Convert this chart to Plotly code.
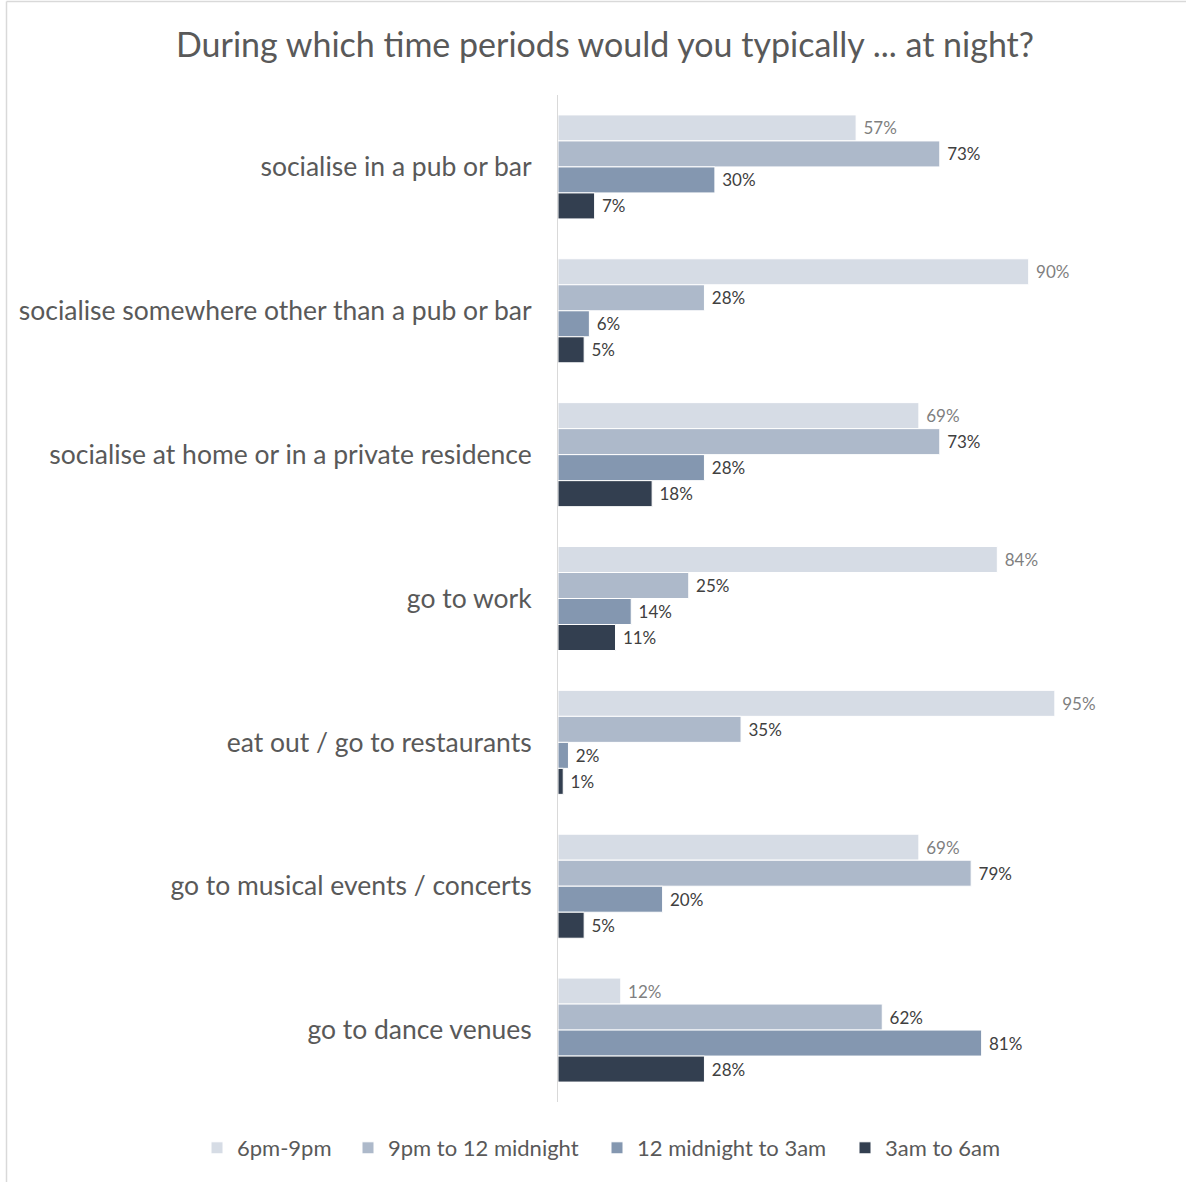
import plotly.graph_objects as go

categories = [
    "socialise in a pub or bar",
    "socialise somewhere other than a pub or bar",
    "socialise at home or in a private residence",
    "go to work",
    "eat out / go to restaurants",
    "go to musical events / concerts",
    "go to dance venues",
]
series_names = ["6pm-9pm", "9pm to 12 midnight", "12 midnight to 3am", "3am to 6am"]
s_6_9 = [0.57, 0.90, 0.69, 0.84, 0.95, 0.69, 0.12]
s_9_12 = [0.73, 0.28, 0.73, 0.25, 0.35, 0.79, 0.62]
s_12_3 = [0.30, 0.06, 0.28, 0.14, 0.02, 0.20, 0.81]
s_3_6 = [0.07, 0.05, 0.18, 0.11, 0.01, 0.05, 0.28]
series_values = [s_6_9, s_9_12, s_12_3, s_3_6]

colors = ["#D6DCE5", "#ADB9CA", "#8497B0", "#333F50"]
label_colors = ["#7F7F7F", "#404040", "#404040", "#404040"]
legend_text_x = [237, 388, 637, 885]

W, H = 1186, 1182
L, R, T, B = 558, 1081, 95, 1102

legend_ids = ["legend", "legend2", "legend3", "legend4"]

fig = go.Figure()
for name, vals, c, lc, lid in zip(series_names, series_values, colors, label_colors, legend_ids):
    fig.add_trace(go.Bar(
        y=categories, x=vals, name=name, orientation="h", legend=lid,
        marker=dict(color=c, line=dict(color="white", width=1)),
        texttemplate="\u00a0%{x:.0%}", textposition="outside",
        textfont=dict(family="Lato", size=17, color=lc),
        cliponaxis=False,
    ))

def px_x(x):
    return (x - L) / (R - L)

def px_y(y):
    return (B - y) / (B - T)

legends = {}
for lid, tx in zip(legend_ids, legend_text_x):
    legends[lid] = dict(orientation="h", xref="container", yref="container",
                        x=(tx - 40) / W, xanchor="left", y=1 - 1148 / H, yanchor="middle",
                        itemwidth=30,
                        font=dict(family="Lato", size=22, color="#595959"))

fig.update_layout(
    width=W, height=H,
    margin=dict(l=L, r=W - R, t=T, b=H - B, autoexpand=False),
    paper_bgcolor="white", plot_bgcolor="white",
    barmode="group", bargap=0.277, bargroupgap=0,
    title=dict(text="During which time periods would you typically ... at night?",
               x=605 / W, xanchor="center", xref="container",
               y=1 - 45 / H, yanchor="middle",
               font=dict(family="Lato", size=34, color="#595959")),
    xaxis=dict(range=[0, 1], visible=False, showgrid=False),
    yaxis=dict(autorange="reversed", showline=True, linecolor="#D9D9D9", linewidth=1,
               ticks="", ticklabelstandoff=20,
               tickfont=dict(family="Lato", size=26.5, color="#595959")),
    showlegend=True,
    shapes=[
        dict(type="line", xref="paper", yref="paper", x0=px_x(6.5), x1=px_x(1200), y0=px_y(1.5), y1=px_y(1.5),
             line=dict(color="#D9D9D9", width=1.5)),
        dict(type="line", xref="paper", yref="paper", x0=px_x(6.5), x1=px_x(6.5), y0=px_y(1.5), y1=px_y(1200),
             line=dict(color="#D9D9D9", width=1.5)),
    ],
    **legends,
)

fig.write_html("out.html")
